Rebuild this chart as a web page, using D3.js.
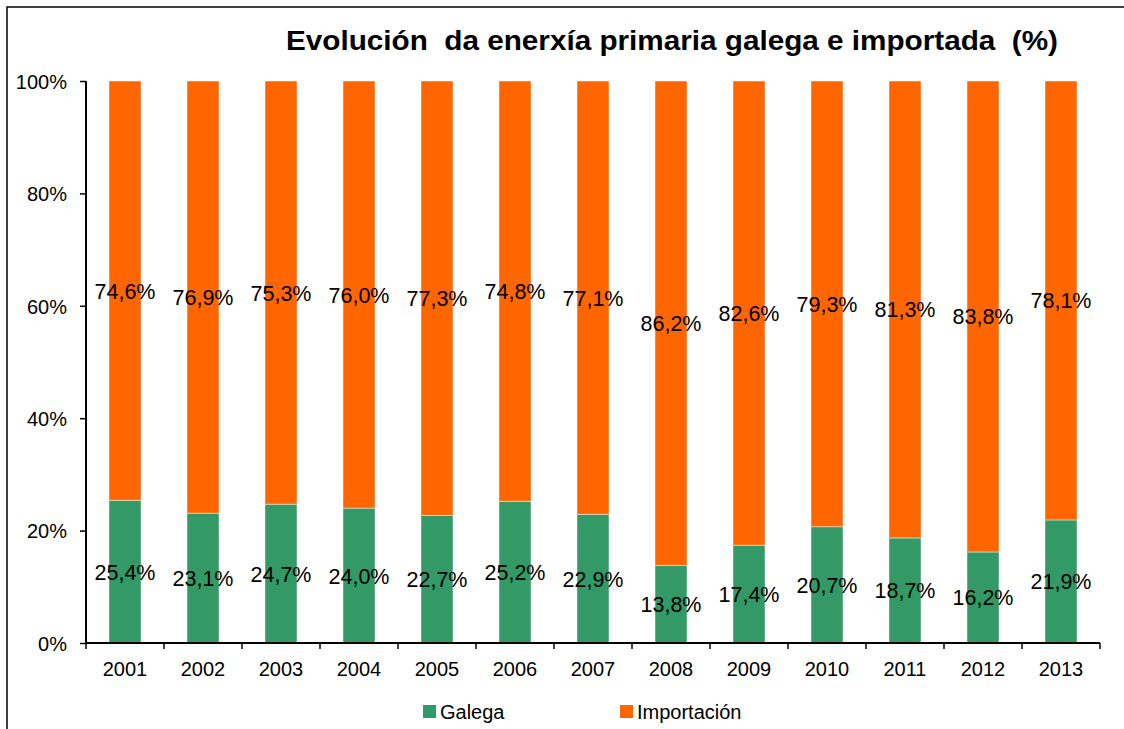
<!DOCTYPE html>
<html>
<head>
<meta charset="utf-8">
<script src="https://cdn.jsdelivr.net/npm/d3@7"></script>
<style>
    body { margin: 0; background: #fff; }
    svg { display: block; font-family: "Liberation Sans", Arial, sans-serif; }
</style>
</head>
<body>
<svg id="chart" width="1124" height="729"></svg>
<script>
var years = ['2001', '2002', '2003', '2004', '2005', '2006', '2007', '2008', '2009', '2010', '2011', '2012', '2013'];
var galega = [25.4, 23.1, 24.7, 24.0, 22.7, 25.2, 22.9, 13.8, 17.4, 20.7, 18.7, 16.2, 21.9];
var importacion = [74.6, 76.9, 75.3, 76.0, 77.3, 74.8, 77.1, 86.2, 82.6, 79.3, 81.3, 83.8, 78.1];
var yTicks = [0, 20, 40, 60, 80, 100];
var seriesNames = ['Galega', 'Importación'];
var seriesColors = ['#339966', '#FF6600'];
var title = 'Evolución\u00a0 da enerxía primaria galega e importada\u00a0 (%)';

(function () {
    'use strict';
    var svg = d3.select('#chart');
    var left = 86, right = 1100, top = 81, bottom = 643;

    var x = d3.scaleBand().domain(years).range([left, right]).paddingInner(0.59).paddingOuter(0.295);
    var xCat = d3.scaleBand().domain(years).range([left, right]);
    var y = d3.scaleLinear().domain([0, 100]).range([bottom, top]);

    // outer frame (cut off at right and bottom like the source)
    svg.append('rect').attr('x', 7).attr('y', 7).attr('width', 1130).attr('height', 740)
        .attr('fill', 'none').attr('stroke', '#000').attr('stroke-width', 1.5);

    svg.append('text').attr('x', 286).attr('y', 50)
        .attr('textLength', 772).attr('lengthAdjust', 'spacingAndGlyphs')
        .attr('style', 'font-size: 28.5px; font-weight: bold;')
        .text(title);

    var stacked = years.map(function (yr, i) {
        return [
            {year: yr, y0: 0, y1: galega[i], v: galega[i], s: 0},
            {year: yr, y0: galega[i], y1: galega[i] + importacion[i], v: importacion[i], s: 1}
        ];
    });

    var barGrp = svg.append('g');
    var lblGrp = svg.append('g');
    stacked.forEach(function (segs) {
        segs.forEach(function (d) {
            barGrp.append('rect')
                .attr('x', x(d.year)).attr('width', x.bandwidth())
                .attr('y', y(d.y1)).attr('height', y(d.y0) - y(d.y1))
                .attr('fill', seriesColors[d.s])
                .attr('stroke', '#fff').attr('stroke-opacity', 0.45).attr('stroke-width', 1);
            lblGrp.append('text')
                .attr('x', x(d.year) + x.bandwidth() / 2)
                .attr('y', (y(d.y0) + y(d.y1)) / 2 + 8)
                .attr('text-anchor', 'middle')
                .attr('style', 'font-size: 21.5px;')
                .attr('fill', '#000')
                .text(d.v.toFixed(1).replace('.', ',') + '%');
        });
    });

    // y axis
    var yAxis = d3.axisLeft(y).tickValues(yTicks).tickSize(6).tickPadding(13)
        .tickFormat(function (d) { return d + '%'; });
    var gy = svg.append('g').attr('transform', 'translate(' + left + ',0)').call(yAxis);
    gy.select('.domain').attr('stroke-width', 2).attr('d', 'M0,' + top + 'V' + bottom);
    gy.selectAll('.tick line').attr('stroke-width', 1.5);
    gy.selectAll('text').attr('style', 'font-size: 20px; font-family: "Liberation Sans", Arial, sans-serif;').attr('fill', '#000').attr('dy', '0.36em');

    // x axis: labels centred, ticks on category boundaries
    var gx = svg.append('g').attr('transform', 'translate(0,' + bottom + ')');
    gx.append('line').attr('x1', left).attr('x2', right).attr('stroke', '#000').attr('stroke-width', 2);
    var bounds = years.map(function (yr) { return xCat(yr); }).concat([right]);
    gx.selectAll('.xt').data(bounds).enter().append('line')
        .attr('x1', function (d) { return d; }).attr('x2', function (d) { return d; })
        .attr('y1', 0).attr('y2', 6).attr('stroke', '#000').attr('stroke-width', 1.5);
    gx.selectAll('.xl').data(years).enter().append('text')
        .attr('x', function (d) { return xCat(d) + xCat.bandwidth() / 2; })
        .attr('y', 33).attr('text-anchor', 'middle')
        .attr('style', 'font-size: 20px;')
        .text(function (d) { return d; });

    // legend
    var legX = [423, 620];
    seriesNames.forEach(function (name, i) {
        svg.append('rect').attr('x', legX[i]).attr('y', 705).attr('width', 13).attr('height', 13)
            .attr('fill', seriesColors[i]);
        svg.append('text').attr('x', legX[i] + 17).attr('y', 719)
            .attr('style', 'font-size: 20px;')
            .text(name);
    });
})();
</script>
</body>
</html>
